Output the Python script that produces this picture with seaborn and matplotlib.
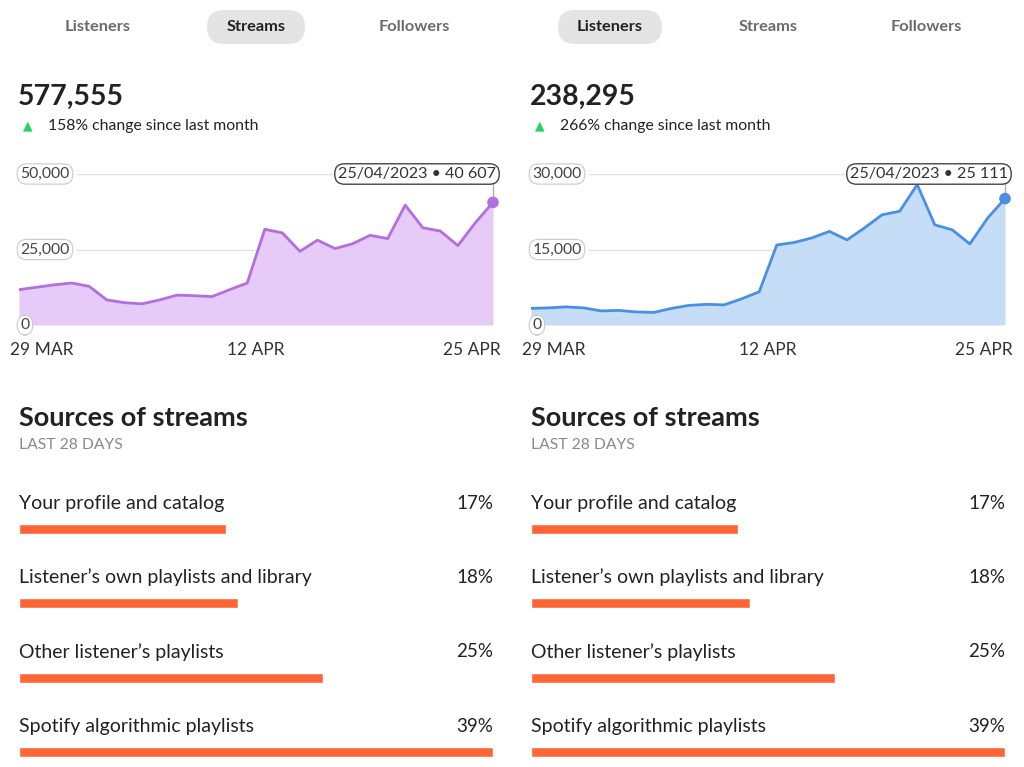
import matplotlib
matplotlib.use("Agg")
import matplotlib.pyplot as plt
import matplotlib.patches as mpatches
import matplotlib.transforms as mtrans
import seaborn as sns
import numpy as np
import pandas as pd

# ---------------- data ----------------
days = list(range(28))  # 29 MAR .. 25 APR
x_tick_labels = ["29 MAR", "12 APR", "25 APR"]

streams = [11700, 12500, 13300, 13900, 12800, 8300, 7400, 7000, 8300, 9900,
           9700, 9400, 11700, 13900, 31700, 30500, 24400, 28100, 25300, 26900,
           29700, 28600, 39700, 32200, 31100, 26300, 33900, 40607]
listeners = [3300, 3400, 3600, 3400, 2800, 2900, 2600, 2500, 3300, 3900,
             4100, 4000, 5200, 6600, 15900, 16400, 17300, 18600, 16900, 19300,
             21900, 22600, 27900, 19900, 18900, 16100, 21200, 25111]

tabs = ["Listeners", "Streams", "Followers"]
left_total = "577,555"
left_change = "158% change since last month"
right_total = "238,295"
right_change = "266% change since last month"
left_yticks = [0, 25000, 50000]
left_ytick_labels = ["0", "25,000", "50,000"]
right_yticks = [0, 15000, 30000]
right_ytick_labels = ["0", "15,000", "30,000"]
left_tooltip = "25/04/2023 • 40 607"
right_tooltip = "25/04/2023 • 25 111"

source_labels = ["Your profile and catalog", "Listener’s own playlists and library",
                 "Other listener’s playlists", "Spotify algorithmic playlists"]
source_pct = [17, 18, 25, 39]

# ---------------- style ----------------
sns.set_theme(style="white")
plt.rcParams['font.family'] = ['Lato', 'DejaVu Sans']

W, H = 1024, 767
fig = plt.figure(figsize=(W / 100, H / 100), dpi=100)
fig.patch.set_facecolor("white")


def fx(px):
    return px / W


def fy(py):
    return 1 - py / H


DARK = "#222222"
GRAY = "#6b6b6b"
ORANGE = "#fd6436"


def pill(x_left, y_top, w, h, color):
    # draw in display pixels (origin bottom-left)
    p = mpatches.FancyBboxPatch((x_left, H - y_top - h), w, h,
                                boxstyle=f"round,pad=0,rounding_size={h / 2}",
                                fc=color, ec="none",
                                transform=mtrans.IdentityTransform(),
                                zorder=0)
    fig.patches.append(p)


def panel(x0, active, total, change, vals, yticks, yticklabels, tooltip,
          line_c, fill_c):
    # tabs
    tab_centers = [x0 + 98, x0 + 256, x0 + 414]
    for t, cx in zip(tabs, tab_centers):
        if t == active:
            w = 98 if t == "Streams" else 104
            pill(cx - w / 2, 10, w, 34, "#e4e4e4")
            fig.text(fx(cx), fy(27), t, ha="center", va="center",
                     fontsize=11.8, fontweight="bold", color=DARK)
        else:
            fig.text(fx(cx), fy(27), t, ha="center", va="center",
                     fontsize=11.8, fontweight="bold", color=GRAY)
    # total + change
    fig.text(fx(x0 + 18), fy(97), total, ha="left", va="center", fontsize=20.5,
             fontweight="bold", color=DARK)
    fig.text(fx(x0 + 28), fy(126), "▲", ha="center", va="center", fontsize=9,
             color="#1ed760", family=["DejaVu Sans"])
    fig.text(fx(x0 + 48), fy(126), change, ha="left", va="center",
             fontsize=11.3, color=DARK)

    # chart
    ax = fig.add_axes([fx(x0 + 19), fy(325), 474 / W, 151 / H])
    df = pd.DataFrame({"day": days, "value": vals})
    ax.fill_between(df["day"], df["value"], 0, color=fill_c, lw=0, zorder=1)
    sns.lineplot(data=df, x="day", y="value", ax=ax, color=line_c, lw=2,
                 zorder=3)
    ax.set_xlim(0, 27)
    ax.set_ylim(0, yticks[-1])
    for yv in yticks[1:]:
        ax.axhline(yv, xmin=0.12, xmax=1, color="#e2e2e2", lw=1, zorder=0)
    for s in ax.spines.values():
        s.set_visible(False)
    ax.set_xticks([])
    ax.set_yticks([])
    ax.set_xlabel("")
    ax.set_ylabel("")
    ax.patch.set_alpha(0)
    # y tick pills
    for yv, lab in zip(yticks, yticklabels):
        py = 325 - 151 * yv / yticks[-1]
        cx = x0 + (25 if lab == "0" else 45)
        fig.text(fx(cx), fy(py), lab, ha="center", va="center", fontsize=11.3,
                 color="#444444",
                 bbox=dict(boxstyle="round,pad=0.2,rounding_size=0.6",
                           fc="white", ec="#cfcfcf", lw=0.9))
    # x labels
    fig.text(fx(x0 + 10), fy(350), x_tick_labels[0], ha="left", va="center",
             fontsize=12.5, color="#333333")
    fig.text(fx(x0 + 256), fy(350), x_tick_labels[1], ha="center", va="center",
             fontsize=12.5, color="#333333")
    fig.text(fx(x0 + 501), fy(350), x_tick_labels[2], ha="right", va="center",
             fontsize=12.5, color="#333333")
    # tooltip
    fig.text(fx(x0 + 496), fy(174), tooltip, ha="right", va="center",
             fontsize=11.6, color="#333333",
             bbox=dict(boxstyle="round,pad=0.2,rounding_size=0.6",
                       fc="white", ec="#444444", lw=1.0))
    ax.plot([27, 27], [vals[-1], yticks[-1] * 0.94], color="#b0b0b0", lw=1,
            zorder=2, clip_on=False)
    ax.scatter([27], [vals[-1]], s=70, color=line_c, zorder=5, clip_on=False,
               edgecolor="none")

    # sources
    fig.text(fx(x0 + 19), fy(418), "Sources of streams", ha="left",
             va="center", fontsize=19.5, fontweight="bold", color=DARK)
    fig.text(fx(x0 + 19), fy(445), "LAST 28 DAYS", ha="left", va="center",
             fontsize=11.3, color="#8a8a8a")

    bx = fig.add_axes([fx(x0 + 19), fy(766.9), 474 / W, (766.9 - 499.3) / H])
    sdf = pd.DataFrame({"source": source_labels, "pct": source_pct})
    sns.barplot(data=sdf, y="source", x="pct", ax=bx, color=ORANGE,
                width=0.135, saturation=1, orient="h")
    bx.set_xlim(0, max(source_pct))
    bx.set_ylim(3.2, -0.4)
    for s in bx.spines.values():
        s.set_visible(False)
    bx.set_xticks([])
    bx.set_yticks([])
    bx.set_xlabel("")
    bx.set_ylabel("")
    bx.patch.set_alpha(0)
    for i, (lab, p) in enumerate(zip(source_labels, source_pct)):
        bx.text(0, i - 0.35, lab, ha="left", va="center", fontsize=14,
                color=DARK, clip_on=False)
        bx.text(max(source_pct), i - 0.35, f"{p}%", ha="right", va="center",
                fontsize=13.5, color=DARK, clip_on=False)


panel(0, "Streams", left_total, left_change, streams, left_yticks,
      left_ytick_labels, left_tooltip, "#b36ee0", "#e6cbf8")
panel(512, "Listeners", right_total, right_change, listeners, right_yticks,
      right_ytick_labels, right_tooltip, "#4a90e2", "#c6ddf8")

fig.savefig("out.png", dpi=100, facecolor="white")
